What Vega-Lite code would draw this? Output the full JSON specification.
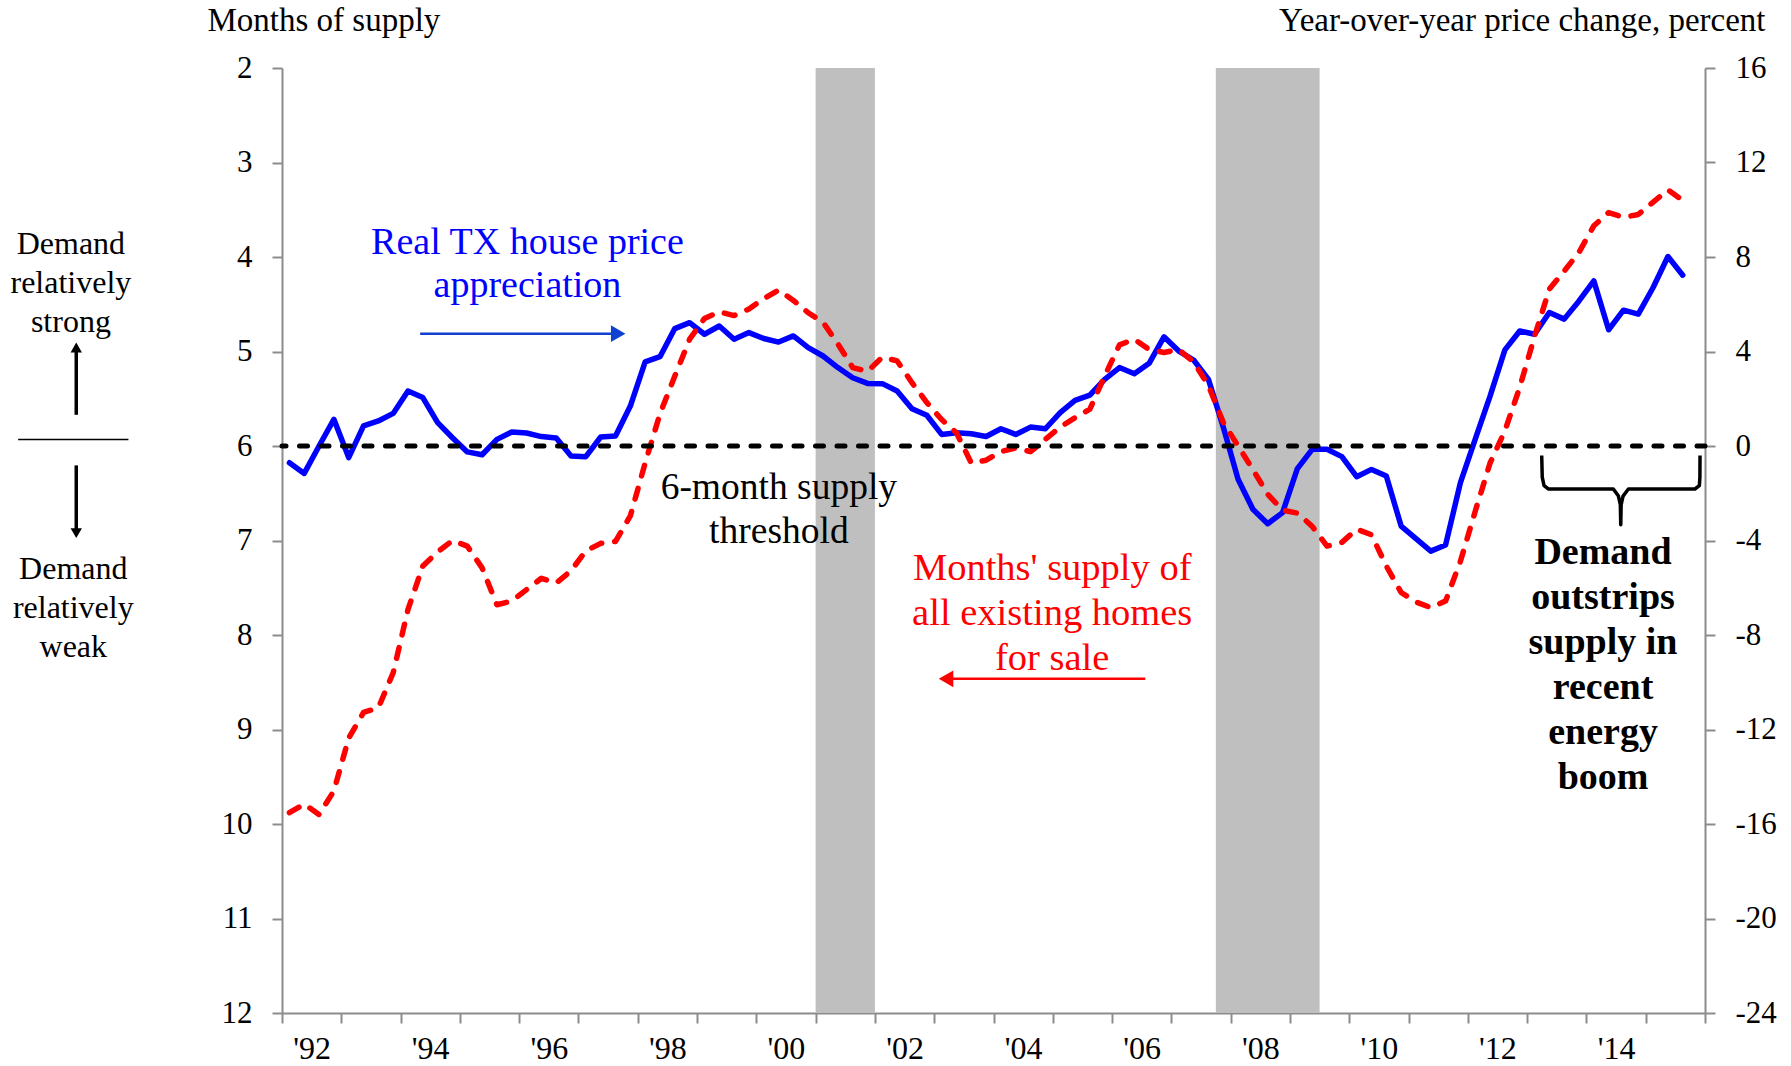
{
  "$schema": "https://vega.github.io/schema/vega-lite/v6.json",
  "width": 1423,
  "height": 945,
  "autosize": {"type": "none"},
  "padding": {"left": 282, "top": 68, "right": 86, "bottom": 53},
  "background": "white",
  "config": {
    "font": "Liberation Serif",
    "view": {"stroke": null},
    "text": {"font": "Liberation Serif"},
    "axis": {
      "grid": false,
      "labelFont": "Liberation Serif",
      "titleFont": "Liberation Serif",
      "labelColor": "black",
      "titleColor": "black",
      "titleFontWeight": "normal",
      "domainColor": "#8c8c8c",
      "tickColor": "#8c8c8c",
      "domainWidth": 2,
      "tickWidth": 2,
      "tickSize": 10
    }
  },
  "datasets": {
    "series": [
      {"t": 1992.125, "supply": 9.88, "price": -0.71},
      {"t": 1992.375, "supply": 9.79, "price": -1.16},
      {"t": 1992.625, "supply": 9.90, "price": 0.0},
      {"t": 1992.875, "supply": 9.65, "price": 1.13},
      {"t": 1993.125, "supply": 9.09, "price": -0.49},
      {"t": 1993.375, "supply": 8.82, "price": 0.85},
      {"t": 1993.625, "supply": 8.77, "price": 1.06},
      {"t": 1993.875, "supply": 8.40, "price": 1.38},
      {"t": 1994.125, "supply": 7.73, "price": 2.33},
      {"t": 1994.375, "supply": 7.27, "price": 2.05},
      {"t": 1994.625, "supply": 7.12, "price": 0.99},
      {"t": 1994.875, "supply": 7.00, "price": 0.35},
      {"t": 1995.125, "supply": 7.06, "price": -0.25},
      {"t": 1995.375, "supply": 7.29, "price": -0.37},
      {"t": 1995.625, "supply": 7.68, "price": 0.28},
      {"t": 1995.875, "supply": 7.64, "price": 0.59},
      {"t": 1996.125, "supply": 7.52, "price": 0.55},
      {"t": 1996.375, "supply": 7.40, "price": 0.40},
      {"t": 1996.625, "supply": 7.45, "price": 0.34},
      {"t": 1996.875, "supply": 7.32, "price": -0.42},
      {"t": 1997.125, "supply": 7.11, "price": -0.45},
      {"t": 1997.375, "supply": 7.03, "price": 0.38},
      {"t": 1997.625, "supply": 7.01, "price": 0.42},
      {"t": 1997.875, "supply": 6.74, "price": 1.69},
      {"t": 1998.125, "supply": 6.18, "price": 3.56},
      {"t": 1998.375, "supply": 5.66, "price": 3.78},
      {"t": 1998.625, "supply": 5.26, "price": 4.97},
      {"t": 1998.875, "supply": 4.87, "price": 5.22},
      {"t": 1999.125, "supply": 4.65, "price": 4.73},
      {"t": 1999.375, "supply": 4.58, "price": 5.08},
      {"t": 1999.625, "supply": 4.62, "price": 4.52},
      {"t": 1999.875, "supply": 4.55, "price": 4.80},
      {"t": 2000.125, "supply": 4.44, "price": 4.55},
      {"t": 2000.375, "supply": 4.35, "price": 4.40},
      {"t": 2000.625, "supply": 4.46, "price": 4.66},
      {"t": 2000.875, "supply": 4.59, "price": 4.16},
      {"t": 2001.125, "supply": 4.69, "price": 3.81},
      {"t": 2001.375, "supply": 4.92, "price": 3.32},
      {"t": 2001.625, "supply": 5.17, "price": 2.89},
      {"t": 2001.875, "supply": 5.21, "price": 2.65},
      {"t": 2002.125, "supply": 5.06, "price": 2.64},
      {"t": 2002.375, "supply": 5.10, "price": 2.33},
      {"t": 2002.625, "supply": 5.33, "price": 1.58},
      {"t": 2002.875, "supply": 5.54, "price": 1.30},
      {"t": 2003.125, "supply": 5.72, "price": 0.49},
      {"t": 2003.375, "supply": 5.86, "price": 0.56},
      {"t": 2003.625, "supply": 6.18, "price": 0.52},
      {"t": 2003.875, "supply": 6.15, "price": 0.40},
      {"t": 2004.125, "supply": 6.06, "price": 0.73},
      {"t": 2004.375, "supply": 6.02, "price": 0.49},
      {"t": 2004.625, "supply": 6.06, "price": 0.80},
      {"t": 2004.875, "supply": 5.93, "price": 0.73},
      {"t": 2005.125, "supply": 5.80, "price": 1.41},
      {"t": 2005.375, "supply": 5.70, "price": 1.93},
      {"t": 2005.625, "supply": 5.61, "price": 2.15},
      {"t": 2005.875, "supply": 5.26, "price": 2.82},
      {"t": 2006.125, "supply": 4.93, "price": 3.32},
      {"t": 2006.375, "supply": 4.87, "price": 3.06},
      {"t": 2006.625, "supply": 4.98, "price": 3.50},
      {"t": 2006.875, "supply": 5.01, "price": 4.62},
      {"t": 2007.125, "supply": 4.98, "price": 4.02},
      {"t": 2007.375, "supply": 5.11, "price": 3.64},
      {"t": 2007.625, "supply": 5.36, "price": 2.82},
      {"t": 2007.875, "supply": 5.75, "price": 0.80},
      {"t": 2008.125, "supply": 6.00, "price": -1.41},
      {"t": 2008.375, "supply": 6.25, "price": -2.68},
      {"t": 2008.625, "supply": 6.51, "price": -3.29},
      {"t": 2008.875, "supply": 6.68, "price": -2.82},
      {"t": 2009.125, "supply": 6.71, "price": -0.96},
      {"t": 2009.375, "supply": 6.85, "price": -0.14},
      {"t": 2009.625, "supply": 7.06, "price": -0.14},
      {"t": 2009.875, "supply": 7.02, "price": -0.45},
      {"t": 2010.125, "supply": 6.88, "price": -1.30},
      {"t": 2010.375, "supply": 6.94, "price": -0.99},
      {"t": 2010.625, "supply": 7.27, "price": -1.27},
      {"t": 2010.875, "supply": 7.55, "price": -3.39},
      {"t": 2011.125, "supply": 7.65, "price": -3.92},
      {"t": 2011.375, "supply": 7.71, "price": -4.45},
      {"t": 2011.625, "supply": 7.64, "price": -4.19},
      {"t": 2011.875, "supply": 7.22, "price": -1.55},
      {"t": 2012.125, "supply": 6.69, "price": 0.29},
      {"t": 2012.375, "supply": 6.18, "price": 2.11},
      {"t": 2012.625, "supply": 5.84, "price": 4.07},
      {"t": 2012.875, "supply": 5.38, "price": 4.87},
      {"t": 2013.125, "supply": 4.84, "price": 4.73},
      {"t": 2013.375, "supply": 4.34, "price": 5.65},
      {"t": 2013.625, "supply": 4.15, "price": 5.37},
      {"t": 2013.875, "supply": 3.95, "price": 6.14},
      {"t": 2014.125, "supply": 3.67, "price": 6.99},
      {"t": 2014.375, "supply": 3.53, "price": 4.92},
      {"t": 2014.625, "supply": 3.58, "price": 5.75},
      {"t": 2014.875, "supply": 3.55, "price": 5.58},
      {"t": 2015.125, "supply": 3.42, "price": 6.71},
      {"t": 2015.375, "supply": 3.29, "price": 8.02},
      {"t": 2015.625, "supply": 3.40, "price": 7.23}
    ],
    "recessions": [
      {"start": 2001.0, "end": 2002.0},
      {"start": 2007.75, "end": 2009.5}
    ],
    "brace": [
      {"k": 1, "x": 2013.246, "y": 6.10},
      {"k": 2, "x": 2013.255, "y": 6.33},
      {"k": 3, "x": 2013.285, "y": 6.42},
      {"k": 4, "x": 2013.36, "y": 6.455},
      {"k": 5, "x": 2014.454, "y": 6.455},
      {"k": 6, "x": 2014.54, "y": 6.53},
      {"k": 7, "x": 2014.572, "y": 6.62},
      {"k": 8, "x": 2014.579, "y": 6.833},
      {"k": 9, "x": 2014.586, "y": 6.62},
      {"k": 10, "x": 2014.618, "y": 6.53},
      {"k": 11, "x": 2014.708, "y": 6.455},
      {"k": 12, "x": 2015.83, "y": 6.455},
      {"k": 13, "x": 2015.905, "y": 6.42},
      {"k": 14, "x": 2015.914, "y": 6.33},
      {"k": 15, "x": 2015.916, "y": 6.10}
    ]
  },
  "layer": [
    {
      "data": {"name": "recessions"},
      "mark": {"type": "rect", "color": "#BFBFBF"},
      "encoding": {
        "x": {
          "field": "start", "type": "quantitative",
          "scale": {"domain": [1992, 2016], "nice": false, "zero": false},
          "axis": {
            "orient": "bottom",
            "title": null,
            "values": [1992, 1993, 1994, 1995, 1996, 1997, 1998, 1999, 2000, 2001, 2002, 2003, 2004, 2005, 2006, 2007, 2008, 2009, 2010, 2011, 2012, 2013, 2014, 2015, 2016],
            "labelExpr": "datum.value % 2 == 0 && datum.value < 2016 ? \"'\" + substring(toString(datum.value), 2, 4) : ''",
            "labelOffset": 29.6,
            "labelFontSize": 32,
            "labelPadding": 10,
            "labelOverlap": false,
            "labelFlush": false,
            "labelBound": false
          }
        },
        "x2": {"field": "end"}
      }
    },
    {
      "data": {"name": "series"},
      "mark": {"type": "line", "color": "#0000FF", "strokeWidth": 5.5, "strokeJoin": "round", "strokeCap": "round"},
      "encoding": {
        "x": {"field": "t", "type": "quantitative", "scale": {"domain": [1992, 2016], "nice": false, "zero": false}},
        "y": {
          "field": "price", "type": "quantitative",
          "scale": {"domain": [-24, 16], "nice": false, "zero": false},
          "axis": {
            "orient": "right",
            "values": [-24, -20, -16, -12, -8, -4, 0, 4, 8, 12, 16],
            "labelExpr": "toString(datum.value)",
            "title": "Year-over-year price change, percent",
            "titleAngle": 0,
            "titleAlign": "right",
            "titleBaseline": "alphabetic",
            "titleX": 60,
            "titleY": -38,
            "titleFontSize": 33,
            "labelFontSize": 31,
            "labelPadding": 20
          }
        }
      }
    },
    {
      "layer": [
        {
          "data": {"name": "series"},
          "mark": {"type": "line", "color": "#FF0000", "strokeWidth": 5.5, "strokeDash": [11, 13], "strokeCap": "round", "strokeJoin": "round"},
          "encoding": {
            "x": {"field": "t", "type": "quantitative", "scale": {"domain": [1992, 2016], "nice": false, "zero": false}},
            "y": {
              "field": "supply", "type": "quantitative",
              "scale": {"domain": [2, 12], "reverse": true, "nice": false, "zero": false},
              "axis": {
                "orient": "left",
                "values": [2, 3, 4, 5, 6, 7, 8, 9, 10, 11, 12],
                "labelExpr": "toString(datum.value)",
                "title": "Months of supply",
                "titleAngle": 0,
                "titleAlign": "left",
                "titleBaseline": "alphabetic",
                "titleX": -75,
                "titleY": -38,
                "titleFontSize": 33,
                "labelFontSize": 31,
                "labelPadding": 20
              }
            }
          }
        },
        {
          "data": {"values": [{"threshold": 6}]},
          "mark": {"type": "rule", "color": "black", "strokeWidth": 5, "strokeDash": [8, 13.5], "strokeCap": "round"},
          "encoding": {
            "y": {"field": "threshold", "type": "quantitative"}
          }
        },
        {
          "data": {"name": "brace"},
          "mark": {"type": "line", "color": "black", "strokeWidth": 3.5, "strokeJoin": "round"},
          "encoding": {
            "x": {"field": "x", "type": "quantitative"},
            "y": {"field": "y", "type": "quantitative"},
            "order": {"field": "k"}
          }
        },
        {
          "data": {"values": [
            {"x": 1994.33, "x2": 1997.67, "y": 4.812, "y2": 4.812}
          ]},
          "mark": {"type": "rule", "color": "#1040D0", "strokeWidth": 2.5},
          "encoding": {
            "x": {"field": "x", "type": "quantitative"},
            "x2": {"field": "x2"},
            "y": {"field": "y", "type": "quantitative"},
            "y2": {"field": "y2"}
          }
        },
        {
          "data": {"values": [{"x": 1997.67, "y": 4.812}]},
          "mark": {"type": "point", "shape": "triangle-right", "filled": true, "opacity": 1, "color": "#1040D0", "size": 280},
          "encoding": {
            "x": {"field": "x", "type": "quantitative"},
            "y": {"field": "y", "type": "quantitative"}
          }
        },
        {
          "data": {"values": [
            {"x": 2003.2, "x2": 2006.56, "y": 8.464, "y2": 8.464}
          ]},
          "mark": {"type": "rule", "color": "#FF0000", "strokeWidth": 2.5},
          "encoding": {
            "x": {"field": "x", "type": "quantitative"},
            "x2": {"field": "x2"},
            "y": {"field": "y", "type": "quantitative"},
            "y2": {"field": "y2"}
          }
        },
        {
          "data": {"values": [{"x": 2003.2, "y": 8.464}]},
          "mark": {"type": "point", "shape": "triangle-left", "filled": true, "opacity": 1, "color": "#FF0000", "size": 280},
          "encoding": {
            "x": {"field": "x", "type": "quantitative"},
            "y": {"field": "y", "type": "quantitative"}
          }
        },
        {
          "data": {"values": [
            {"x": 1988.53, "x2": 1988.53, "y": 5.67, "y2": 4.97},
            {"x": 1988.53, "x2": 1988.53, "y": 6.205, "y2": 6.91}
          ]},
          "mark": {"type": "rule", "color": "black", "strokeWidth": 3.5},
          "encoding": {
            "x": {"field": "x", "type": "quantitative"},
            "x2": {"field": "x2"},
            "y": {"field": "y", "type": "quantitative"},
            "y2": {"field": "y2"}
          }
        },
        {
          "data": {"values": [
            {"x": 1987.55, "x2": 1989.41, "y": 5.93, "y2": 5.93}
          ]},
          "mark": {"type": "rule", "color": "black", "strokeWidth": 1.5},
          "encoding": {
            "x": {"field": "x", "type": "quantitative"},
            "x2": {"field": "x2"},
            "y": {"field": "y", "type": "quantitative"},
            "y2": {"field": "y2"}
          }
        },
        {
          "data": {"values": [{"x": 1988.53, "y": 4.958}]},
          "mark": {"type": "point", "shape": "triangle-up", "filled": true, "opacity": 1, "color": "black", "size": 130},
          "encoding": {
            "x": {"field": "x", "type": "quantitative"},
            "y": {"field": "y", "type": "quantitative"}
          }
        },
        {
          "data": {"values": [{"x": 1988.53, "y": 6.922}]},
          "mark": {"type": "point", "shape": "triangle-down", "filled": true, "opacity": 1, "color": "black", "size": 130},
          "encoding": {
            "x": {"field": "x", "type": "quantitative"},
            "y": {"field": "y", "type": "quantitative"}
          }
        },
        {
          "data": {"values": [{"x": 1996.14, "y": 3.852, "label": "Real TX house price\nappreciation"}]},
          "mark": {"type": "text", "color": "#0000FF", "fontSize": 38, "lineHeight": 43, "lineBreak": "\n", "align": "center", "baseline": "middle"},
          "encoding": {
            "x": {"field": "x", "type": "quantitative"},
            "y": {"field": "y", "type": "quantitative"},
            "text": {"field": "label"}
          }
        },
        {
          "data": {"values": [{"x": 2000.38, "y": 6.44, "label": "6-month supply\nthreshold"}]},
          "mark": {"type": "text", "color": "black", "fontSize": 37.5, "lineHeight": 44, "lineBreak": "\n", "align": "center", "baseline": "middle"},
          "encoding": {
            "x": {"field": "x", "type": "quantitative"},
            "y": {"field": "y", "type": "quantitative"},
            "text": {"field": "label"}
          }
        },
        {
          "data": {"values": [{"x": 2004.99, "y": 7.292, "label": "Months' supply of\nall existing homes\nfor sale"}]},
          "mark": {"type": "text", "color": "#FF0000", "fontSize": 38.5, "lineHeight": 45, "lineBreak": "\n", "align": "center", "baseline": "middle"},
          "encoding": {
            "x": {"field": "x", "type": "quantitative"},
            "y": {"field": "y", "type": "quantitative"},
            "text": {"field": "label"}
          }
        },
        {
          "data": {"values": [{"x": 2014.28, "y": 7.13, "label": "Demand\noutstrips\nsupply in\nrecent\nenergy\nboom"}]},
          "mark": {"type": "text", "color": "black", "fontSize": 38, "fontWeight": "bold", "lineHeight": 45, "lineBreak": "\n", "align": "center", "baseline": "middle"},
          "encoding": {
            "x": {"field": "x", "type": "quantitative"},
            "y": {"field": "y", "type": "quantitative"},
            "text": {"field": "label"}
          }
        },
        {
          "data": {"values": [
            {"x": 1988.44, "y": 3.863, "label": "Demand\nrelatively\nstrong"},
            {"x": 1988.48, "y": 7.30, "label": "Demand\nrelatively\nweak"}
          ]},
          "mark": {"type": "text", "color": "black", "fontSize": 32, "lineHeight": 39, "lineBreak": "\n", "align": "center", "baseline": "middle"},
          "encoding": {
            "x": {"field": "x", "type": "quantitative"},
            "y": {"field": "y", "type": "quantitative"},
            "text": {"field": "label"}
          }
        }
      ]
    }
  ],
  "resolve": {"scale": {"y": "independent"}}
}
